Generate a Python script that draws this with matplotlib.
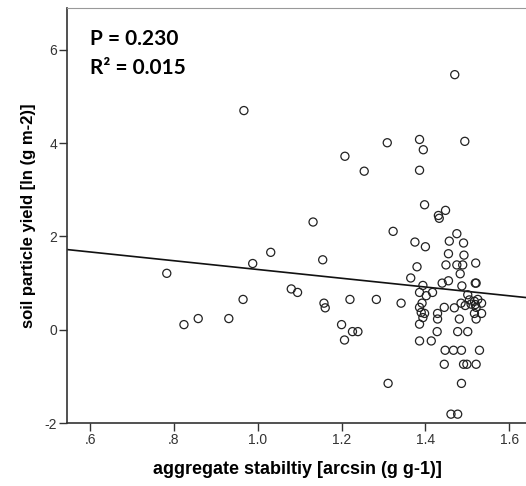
import matplotlib
matplotlib.use('Agg')
import matplotlib.pyplot as plt
import numpy as np

# aggregate stability (arcsin) vs soil particle yield (ln g m-2)
agg_stab = [0.783, 0.824, 0.858, 0.931, 0.965, 0.988, 1.031, 0.967, 1.080, 1.095,
            1.132, 1.155, 1.158, 1.161, 1.200, 1.207, 1.220, 1.226, 1.239, 1.208,
            1.254, 1.283, 1.309, 1.323, 1.311, 1.342, 1.365, 1.375, 1.380, 1.386,
            1.395, 1.386, 1.398, 1.400, 1.448, 1.431, 1.433, 1.470, 1.494, 1.475,
            1.457, 1.491, 1.455, 1.492, 1.449, 1.475, 1.489, 1.520, 1.483, 1.455,
            1.440, 1.519, 1.521, 1.394, 1.487, 1.386, 1.417, 1.402, 1.501, 1.505,
            1.517, 1.525, 1.534, 1.519, 1.485, 1.392, 1.386, 1.445, 1.469, 1.495,
            1.509, 1.521, 1.390, 1.398, 1.429, 1.517, 1.534, 1.394, 1.429, 1.481,
            1.521, 1.386, 1.428, 1.477, 1.501, 1.386, 1.414, 1.447, 1.467, 1.486,
            1.529, 1.445, 1.491, 1.499, 1.521, 1.486, 1.461, 1.477]
yield_ln = [1.21, 0.11, 0.24, 0.24, 0.65, 1.42, 1.66, 4.70, 0.875, 0.80,
            2.31, 1.50, 0.57, 0.47, 0.11, -0.22, 0.65, -0.04, -0.04, 3.72,
            3.40, 0.65, 4.01, 2.11, -1.15, 0.57, 1.11, 1.88, 1.35, 4.08,
            3.86, 3.42, 2.68, 1.78, 2.56, 2.45, 2.39, 5.47, 4.04, 2.06,
            1.90, 1.86, 1.63, 1.60, 1.39, 1.39, 1.39, 1.43, 1.20, 1.05,
            1.00, 1.00, 1.00, 0.95, 0.94, 0.80, 0.80, 0.73, 0.75, 0.64,
            0.61, 0.65, 0.57, 0.54, 0.57, 0.57, 0.48, 0.48, 0.47, 0.52,
            0.55, 0.48, 0.37, 0.35, 0.35, 0.35, 0.35, 0.26, 0.23, 0.23,
            0.23, 0.12, -0.04, -0.04, -0.04, -0.24, -0.24, -0.44, -0.44, -0.44,
            -0.44, -0.74, -0.74, -0.74, -0.74, -1.15, -1.81, -1.81]

# linear fit line (intercept, slope)
fit_intercept = 2.232
fit_slope = -0.94

x_ticks = [0.6, 0.8, 1.0, 1.2, 1.4, 1.6]
x_ticklabels = ['.6', '.8', '1.0', '1.2', '1.4', '1.6']
y_ticks = [-2, 0, 2, 4, 6]

plt.rcParams['font.family'] = ['Liberation Sans', 'DejaVu Sans']
plt.rcParams['axes.unicode_minus'] = False

fig = plt.figure(figsize=(5.26, 4.86), dpi=100)
ax = fig.add_axes([0.1274, 0.1296, 0.875, 0.854])

xmin, xmax = 0.545, 1.643
ax.set_xlim(xmin, xmax)
ax.set_ylim(-2, 6.9)

ax.scatter(agg_stab, yield_ln, s=34, facecolors='none', edgecolors='#222222',
           linewidths=0.9, zorder=3)

xl = np.array([xmin, xmax])
ax.plot(xl, fit_intercept + fit_slope * xl, color='#111111', lw=1.2, zorder=2)

ax.set_xticks(x_ticks)
ax.set_xticklabels(x_ticklabels)
ax.set_yticks(y_ticks)
ax.tick_params(axis='both', direction='out', length=6, width=1, color='#333333',
               labelsize=10, labelcolor='#333333', pad=1)

for s in ['left', 'bottom']:
    ax.spines[s].set_color('#333333')
    ax.spines[s].set_linewidth(1.2)
ax.spines['top'].set_color('#999999')
ax.spines['right'].set_visible(False)

ax.set_xlabel('aggregate stabiltiy [arcsin (g g-1)]', fontsize=13,
              fontweight='bold', labelpad=10)
ax.set_ylabel('soil particle yield [ln (g m-2)]', fontsize=12,
              fontweight='bold', labelpad=6)

ax.text(0.05, 0.95, 'P = 0.230', transform=ax.transAxes, fontsize=15,
        fontweight='bold', family=['Lato', 'DejaVu Sans'], va='top')
ax.text(0.05, 0.88, 'R\u00b2 = 0.015', transform=ax.transAxes, fontsize=15,
        fontweight='bold', family=['Lato', 'DejaVu Sans'], va='top')

fig.savefig('out.png', dpi=100)
